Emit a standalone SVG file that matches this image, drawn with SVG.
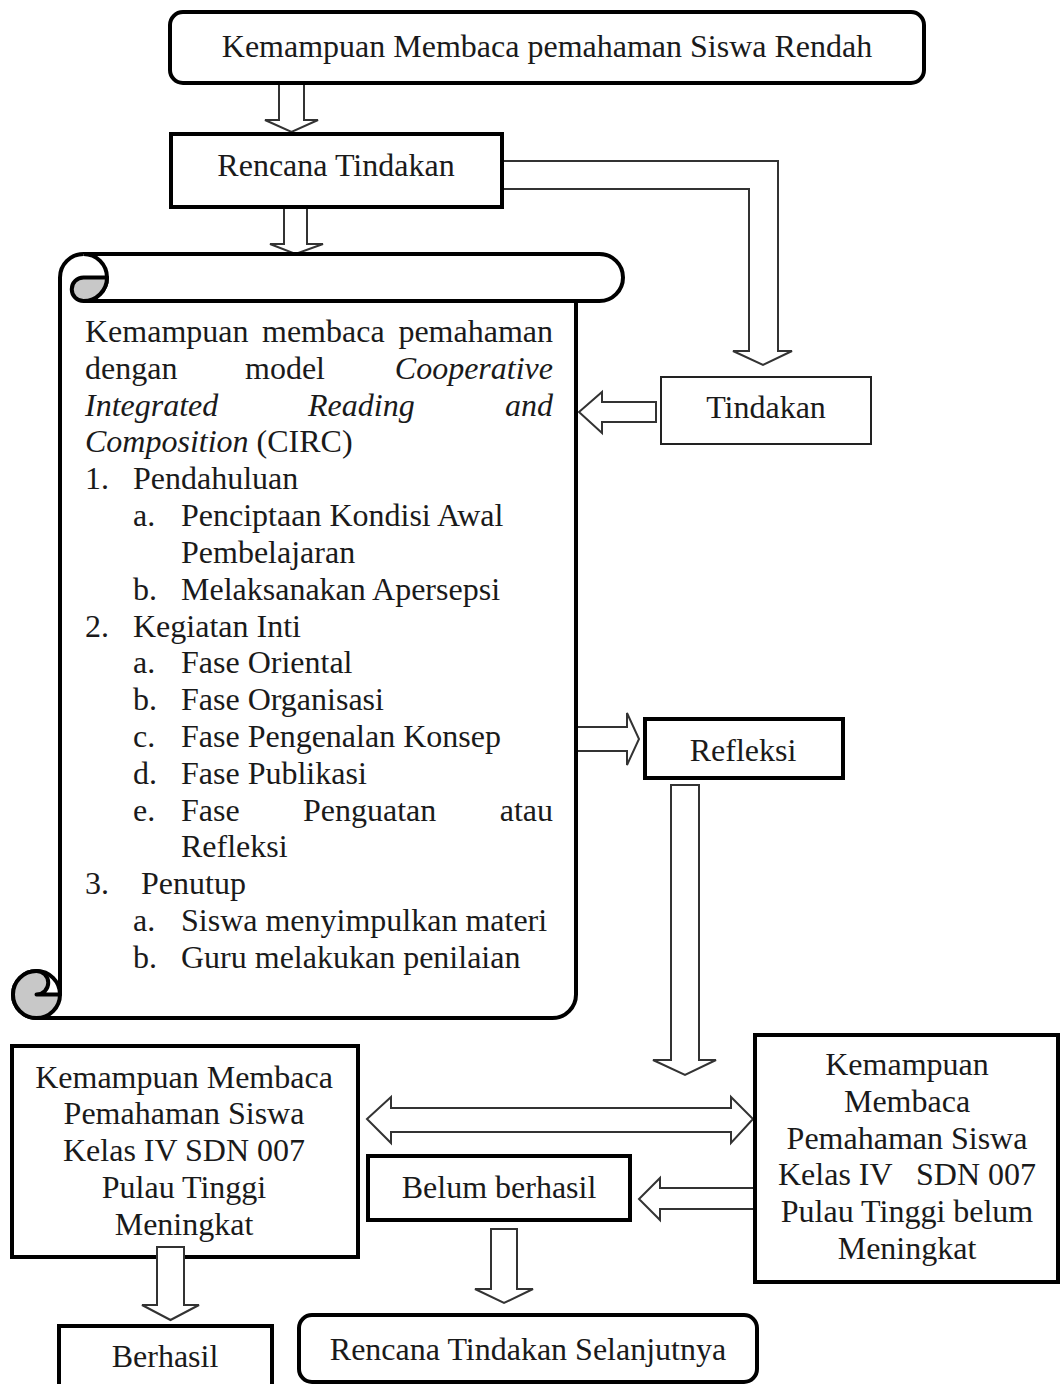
<svg xmlns="http://www.w3.org/2000/svg" width="1060" height="1384" viewBox="0 0 1060 1384">
<style>
text{font-family:"Liberation Serif","Times New Roman",serif;font-size:32px;fill:#1a1a1a}
.c{text-anchor:middle}
.e{text-anchor:end}
.i{font-style:italic}
.box{fill:#fff;stroke:#000;stroke-width:4}
.thin{fill:#fff;stroke:#222;stroke-width:2}
.arr{fill:#fff;stroke:#333;stroke-width:2;stroke-linejoin:miter}
.scroll{fill:#fff;stroke:#000;stroke-width:4;stroke-linejoin:round}
.curl{fill:#c8c8c8;stroke:#000;stroke-width:4;stroke-linejoin:round}
</style>
<rect width="1060" height="1384" fill="#fff"/>

<g id="connectors">
<path class="arr" d="M279 83 V120 H265 L291.5 132 L318 120 H304 V83 Z"/>
<path class="arr" d="M284 207 V244 H270 L295.5 254 L323 244 H307 V207 Z"/>
<path class="arr" d="M502 161 H778 V351 H792 L763 365 L733 351 H749 V189 H502 Z"/>
<path class="arr" d="M656 402 H602 V392 L579 412 L602 433 V422 H656 Z"/>
<path class="arr" d="M575 727 H627 V713 L639 739 L627 765 V751 H575 Z"/>
<path class="arr" d="M671 785 V1060 H653 L685 1075 L716 1060 H699 V785 Z"/>
<path class="arr" d="M367 1119 L391 1097 V1108 H731 V1097 L753 1119 L731 1143 V1132 H391 V1143 Z"/>
<path class="arr" d="M757 1188 H660 V1178 L639 1199 L660 1220 V1209 H757 Z"/>
<path class="arr" d="M491 1229 V1289 H475 L504 1303 L533 1289 H517 V1229 Z"/>
</g>

<g id="node-top">
<rect class="box" x="170" y="12" width="754" height="71" rx="13"/>
<text class="c" x="547" y="57">Kemampuan Membaca pemahaman Siswa Rendah</text>
</g>

<g id="node-rencana">
<rect class="box" x="171" y="134" width="331" height="73"/>
<text class="c" x="336" y="176">Rencana Tindakan</text>
</g>

<g id="node-tindakan">
<rect class="thin" x="661" y="377" width="210" height="67"/>
<text class="c" x="766" y="418">Tindakan</text>
</g>

<g id="node-scroll">
<path class="scroll" d="M60 994.5 V277.5 A23.5 23.5 0 0 1 83.5 254 H599.5 A23.5 23.5 0 0 1 599.5 301 H576 V994.5 A23.5 23.5 0 0 1 552.5 1018 H36.5 A23.5 23.5 0 0 1 13 994.5 A23.5 23.5 0 0 1 36.5 971 A23.5 23.5 0 0 1 60 994.5 Z"/>
<path class="scroll" fill="none" d="M83.5 301 H576 M83.5 254 A23.5 23.5 0 0 1 83.5 301"/>
<path class="curl" d="M83.5 277.5 H107 A23.5 23.5 0 0 1 83.5 301 A11.75 11.75 0 0 1 83.5 277.5 Z"/>
<path class="curl" d="M36.5 994.5 H60 A23.5 23.5 0 1 1 36.5 971 A11.75 11.75 0 0 1 36.5 994.5 Z"/>
<text x="85" y="342">Kemampuan</text><text x="262" y="342">membaca</text><text class="e" x="553" y="342">pemahaman</text>
<text x="85" y="379">dengan</text><text x="245" y="379">model</text><text class="e i" x="553" y="379">Cooperative</text>
<text class="i" x="85" y="416">Integrated</text><text class="i" x="308" y="416">Reading</text><text class="e i" x="553" y="416">and</text>
<text x="85" y="452"><tspan class="i">Composition</tspan> (CIRC)</text>
<text x="85" y="489">1.</text><text x="133" y="489">Pendahuluan</text>
<text x="133" y="526">a.</text><text x="181" y="526">Penciptaan Kondisi Awal</text>
<text x="181" y="563">Pembelajaran</text>
<text x="133" y="600">b.</text><text x="181" y="600">Melaksanakan Apersepsi</text>
<text x="85" y="637">2.</text><text x="133" y="637">Kegiatan Inti</text>
<text x="133" y="673">a.</text><text x="181" y="673">Fase Oriental</text>
<text x="133" y="710">b.</text><text x="181" y="710">Fase Organisasi</text>
<text x="133" y="747">c.</text><text x="181" y="747">Fase Pengenalan Konsep</text>
<text x="133" y="784">d.</text><text x="181" y="784">Fase Publikasi</text>
<text x="133" y="821">e.</text><text x="181" y="821">Fase</text><text x="303" y="821">Penguatan</text><text class="e" x="553" y="821">atau</text>
<text x="181" y="857">Refleksi</text>
<text x="85" y="894">3.</text><text x="141" y="894">Penutup</text>
<text x="133" y="931">a.</text><text x="181" y="931">Siswa menyimpulkan materi</text>
<text x="133" y="968">b.</text><text x="181" y="968">Guru melakukan penilaian</text>
</g>

<g id="node-refleksi">
<rect class="box" x="645" y="719" width="198" height="59"/>
<text class="c" x="743" y="761">Refleksi</text>
</g>

<g id="node-meningkat">
<rect class="box" x="12" y="1046" width="346" height="211"/>
<text class="c" x="184" y="1088">Kemampuan Membaca</text>
<text class="c" x="184" y="1124">Pemahaman Siswa</text>
<text class="c" x="184" y="1161">Kelas IV SDN 007</text>
<text class="c" x="184" y="1198">Pulau Tinggi</text>
<text class="c" x="184" y="1235">Meningkat</text>
</g>

<g id="node-belum-meningkat">
<rect class="box" x="755" y="1035" width="303" height="247"/>
<text class="c" x="907" y="1075">Kemampuan</text>
<text class="c" x="907" y="1112">Membaca</text>
<text class="c" x="907" y="1149">Pemahaman Siswa</text>
<text class="c" x="907" y="1185" xml:space="preserve">Kelas IV   SDN 007</text>
<text class="c" x="907" y="1222">Pulau Tinggi belum</text>
<text class="c" x="907" y="1259">Meningkat</text>
</g>

<g id="node-belum-berhasil">
<rect class="box" x="368" y="1156" width="262" height="64"/>
<text class="c" x="499" y="1198">Belum berhasil</text>
</g>

<g id="connector-berhasil">
<path class="arr" d="M157 1247 V1305 H142 L170.5 1320 L199 1305 H184 V1247 Z"/>
</g>

<g id="node-berhasil">
<rect class="box" x="59" y="1326" width="213" height="80"/>
<text class="c" x="165" y="1367">Berhasil</text>
</g>

<g id="node-selanjutnya">
<rect class="box" x="299" y="1315" width="458" height="67" rx="13"/>
<text class="c" x="528" y="1360">Rencana Tindakan Selanjutnya</text>
</g>
</svg>
